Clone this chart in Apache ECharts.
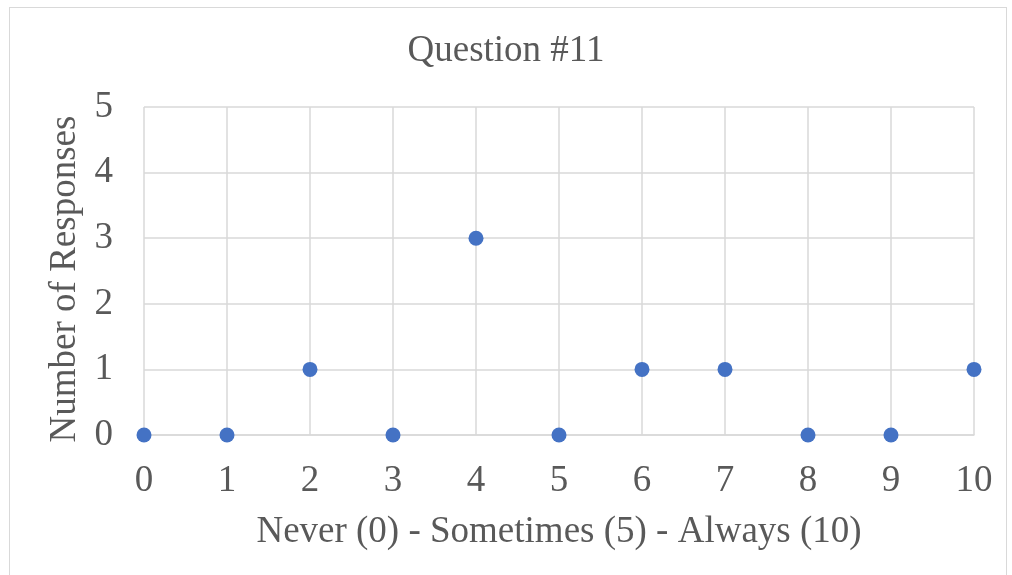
<!DOCTYPE html>
<html><head><meta charset="utf-8">
<script src="https://cdn.jsdelivr.net/npm/echarts@6/dist/echarts.min.js"></script>
<style>
html,body{margin:0;padding:0;background:#fff;overflow:hidden;}
#frame{position:absolute;left:9px;top:7px;width:998px;height:600px;border:1px solid #d9d9d9;box-sizing:border-box;}
#c{position:absolute;left:0;top:0;width:1012px;height:575px;}
</style></head>
<body><div id="frame"></div><div id="c"></div>
<script>
const titleText = "Question #11";
const xName = "Never (0) - Sometimes (5) - Always (10)";
const yName = "Number of Responses";
const xValues = [0,1,2,3,4,5,6,7,8,9,10];
const responses = [0,0,1,0,3,0,1,1,0,0,1];

const font = "'Liberation Serif', 'Times New Roman', serif";
const txt = '#595959';
const fs = 37;
const chart = echarts.init(document.getElementById('c'), null, {renderer:'canvas'});
chart.setOption({
  animation:false,
  backgroundColor:'transparent',
  title:{text:titleText,left:'center',top:28,textStyle:{fontFamily:font,fontWeight:'normal',fontSize:fs,color:txt}},
  grid:{left:144,right:38,top:107,bottom:140,containLabel:false},
  xAxis:{type:'value',min:0,max:10,interval:1,
    name:xName,nameLocation:'middle',nameGap:79,
    nameTextStyle:{fontFamily:font,fontSize:fs,color:txt},
    axisLine:{show:true,lineStyle:{color:'#d9d9d9',width:1.5}},
    axisTick:{show:false},
    axisLabel:{fontFamily:font,fontSize:fs,color:txt,margin:28},
    splitLine:{show:true,lineStyle:{color:'#d9d9d9',width:1.5}}},
  yAxis:{type:'value',min:0,max:5,interval:1,
    name:yName,nameLocation:'middle',nameGap:60,
    nameTextStyle:{fontFamily:font,fontSize:fs,color:txt,padding:[0,16,0,0]},
    axisLine:{show:false},axisTick:{show:false},
    axisLabel:{fontFamily:font,fontSize:fs,color:txt,margin:31},
    splitLine:{show:true,lineStyle:{color:'#d9d9d9',width:1.5}}},
  series:[{type:'scatter',symbol:'circle',symbolSize:15,
    itemStyle:{color:'#4472C4',opacity:1},
    data:xValues.map((x,i)=>[x,responses[i]])}]
});
</script></body></html>
